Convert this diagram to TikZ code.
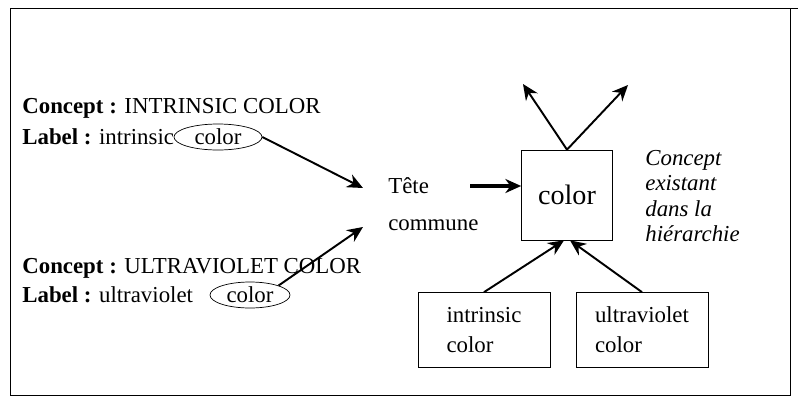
\documentclass[tikz,border=0pt]{standalone}
\usepackage{fontspec}
\setmainfont{Liberation Serif}
\usetikzlibrary{arrows.meta,positioning,shapes.geometric}
\newlength{\unit}\setlength{\unit}{0.02cm}
\tikzset{
  txt/.style={anchor=west,inner sep=0pt,font=\fontsize{13}{15}\selectfont},
  lbl/.style={draw,ellipse,minimum width=#1,minimum height=26\unit,inner sep=0pt,font=\fontsize{13}{15}\selectfont},
  leaf/.style={draw,minimum width=132\unit,minimum height=75\unit,align=left,font=\fontsize{13}{17}\selectfont},
  conn/.style={-{Stealth[length=9pt,width=8pt]},line width=1.1pt}
}
\begin{document}
\begin{tikzpicture}[x=0.02cm,y=-0.02cm]
\useasboundingbox (0,0) rectangle (800,406);
\draw (10,8) rectangle (790,395);
\draw (790,8) -- (798,8);
% left side
\node[txt] (c1) at (22,108) {\textbf{Concept :} INTRINSIC COLOR};
\node[txt] (l1) at (22,137) {\textbf{Label :} intrinsic};
\node[lbl=88\unit] (e1) at (218,137) {color};
\node[txt] (c2) at (22,268) {\textbf{Concept :} ULTRAVIOLET COLOR};
\node[txt] (l2) at (22,295) {\textbf{Label :} ultraviolet};
\node[lbl=80\unit] (e2) at (250,295) {color};
% tete commune
\node[txt] (tete) at (388,186) {Tête};
\node[txt] (comm) at (388,225) {commune};
\coordinate (t1) at (363,188);
\coordinate (t2) at (363,227);
\draw[conn] (e1.east) -- (t1);
\draw[conn] (e2.north east) -- (t2);
% concept box
\node[draw,minimum width=91\unit,minimum height=90\unit,font=\fontsize{16}{18}\selectfont] (col) at (567,195) {color};
\coordinate (th) at (470,186);
\draw[-{Stealth[length=9pt,width=8pt]},line width=2.5pt] (th) -- (col.west|-th);
\coordinate (u1) at (523,84);
\coordinate (u2) at (628,85);
\draw[conn] (col.north) -- (u1);
\draw[conn] (col.north) -- (u2);
\node[anchor=north west,align=left,inner sep=0pt,font=\fontsize{13}{14.5}\selectfont\itshape] (exist) at (645,150) {Concept\\existant\\dans la\\hiérarchie};
% children
\node[leaf] (ic) at (484,330) {intrinsic\\color};
\node[leaf] (uc) at (642,330) {ultraviolet\\color};
\draw[conn] (ic.north) -- ([xshift=-3\unit]col.south);
\draw[conn] (uc.north) -- ([xshift=3\unit]col.south);
\end{tikzpicture}
\end{document}
